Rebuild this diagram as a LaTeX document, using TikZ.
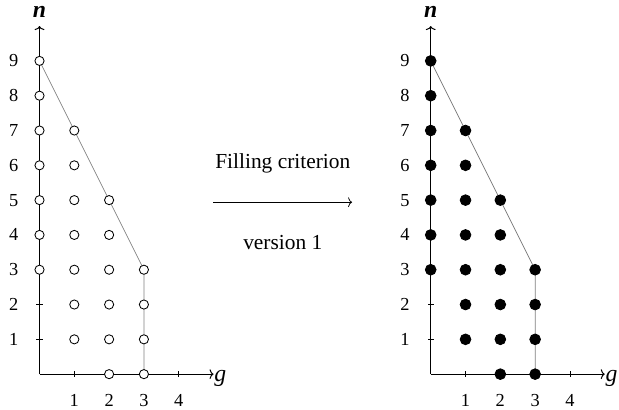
\documentclass[tikz,border=0pt]{standalone}
\usepackage{fontspec}
\setmainfont{Liberation Serif}
\usetikzlibrary{positioning,backgrounds,arrows.meta}

\begin{document}
\begin{tikzpicture}[x=0.8cm,y=0.8cm, every node/.style={font=\fontsize{12}{14}\selectfont},
  >={To[length=2.6pt,width=6.4pt]},
  axis/.style={line width=0.65pt,->},
  bound/.style={draw=gray,line width=0.5pt},
  dot/.style={circle,draw,fill=\fc,line width=0.55pt,inner sep=0pt,minimum size=\ms},
  lbl/.style={font=\fontsize{14}{16}\selectfont},
  var/.style={font=\fontsize{15.5}{18}\selectfont}]
\useasboundingbox (-1.135,-1.006) rectangle (16.65,10.75);
% two lattices: before and after filling
\foreach \p/\sx/\fc/\ms in {L/0/white/6pt,R/11.24/black/7pt}{
\begin{scope}[shift={(\sx,0)}]
\coordinate (\p-o) at (0,0);
\coordinate (\p-xend) at (5,0);
\coordinate (\p-yend) at (0,10);
\draw[axis] (\p-o)--(\p-xend);
\draw[axis] (\p-o)--(\p-yend);
\node[var,anchor=base west,inner xsep=0.8pt] (\p-g) at (4.98,-0.2) {\textit{g}};
\node[var] (\p-n) at (0,10.4) {\textbf{\textit{n}}};
\foreach \i in {1,...,4}{
  \draw[line width=0.5pt] (\i,0.09)--(\i,-0.09);
  \node (\p-x\i) at (\i,-0.75) {\i};}
\foreach \i in {1,...,9}{
  \draw[line width=0.5pt] (0.09,\i)--(-0.09,\i);
  \node (\p-y\i) at (-0.74,\i) {\i};}
\foreach \g/\top/\bot in {0/9/3,1/7/1,2/5/0,3/3/0}
  \foreach \n in {\bot,...,\top}
    \node[dot] (\p-\g-\n) at (\g,\n) {};
\begin{scope}[on background layer]
\draw[bound] (\p-0-9.center)--(\p-3-3.center)--(\p-3-0.center);
\end{scope}
\end{scope}}
% criterion arrow
\coordinate (fa) at (4.99,4.94);
\coordinate (fb) at (8.98,4.94);
\draw[line width=0.5pt,->] (fa)--(fb);
\node[lbl] (crit) at (6.99,6.06) {Filling criterion};
\node[lbl] (ver) at (6.99,3.79) {version 1};
\end{tikzpicture}
\end{document}
